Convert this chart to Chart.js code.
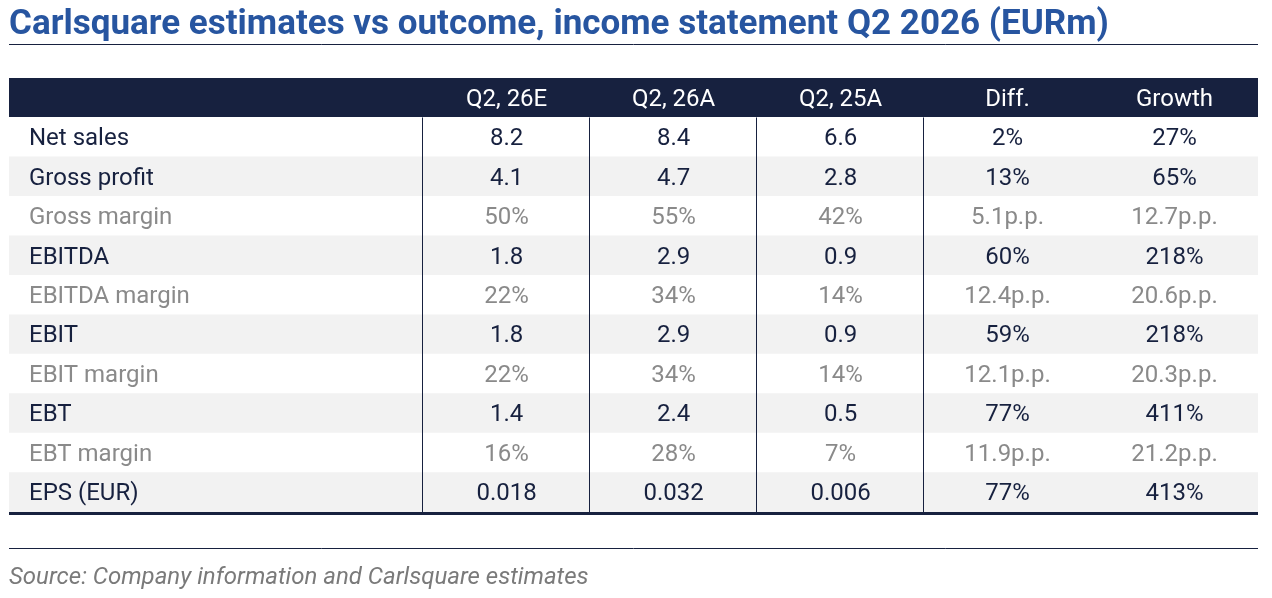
<!DOCTYPE html>
<html>
<head>
<meta charset="utf-8">
<script src="https://cdn.jsdelivr.net/npm/chart.js@4"></script>
<style>
  html, body { margin: 0; padding: 0; background: #fff; }
  #wrap { width: 1272px; height: 598px; }
</style>
</head>
<body>
<div id="wrap"><canvas id="incomeTable"></canvas></div>
<script>
// table content
const headers = ['Q2, 26E', 'Q2, 26A', 'Q2, 25A', 'Diff.', 'Growth'];
const rowLabels = ['Net sales', 'Gross profit', 'Gross margin', 'EBITDA', 'EBITDA margin',
    'EBIT', 'EBIT margin', 'EBT', 'EBT margin', 'EPS (EUR)'];
const q226E = ['8.2', '4.1', '50%', '1.8', '22%', '1.8', '22%', '1.4', '16%', '0.018'];
const q226A = ['8.4', '4.7', '55%', '2.9', '34%', '2.9', '34%', '2.4', '28%', '0.032'];
const q225A = ['6.6', '2.8', '42%', '0.9', '14%', '0.9', '14%', '0.5', '7%', '0.006'];
const diff = ['2%', '13%', '5.1p.p.', '60%', '12.4p.p.', '59%', '12.1p.p.', '77%', '11.9p.p.', '77%'];
const growth = ['27%', '65%', '12.7p.p.', '218%', '20.6p.p.', '218%', '20.3p.p.', '411%', '21.2p.p.', '413%'];

const columns = [q226E, q226A, q225A, diff, growth];

const NAVY = '#17213f';
const GREY_ROW = '#f2f2f2';
const GREY_TEXT = '#8a8a8a';
const X_MIN = -2.48;   // label column, in "data column" widths
const X_MAX = headers.length;

// first category is the header band
const yLabels = [''].concat(rowLabels);

function bandColor(ctx) {
    const i = ctx.dataIndex;
    if (i === 0) return NAVY;
    return i % 2 === 0 ? GREY_ROW : '#ffffff';
}

const tablePlugin = {
    id: 'tablePlugin',
    afterDatasetsDraw(chart) {
        const ctx = chart.ctx;
        const x = chart.scales.x;
        const y = chart.scales.y;
        const area = chart.chartArea;
        const band = (area.bottom - area.top) / yLabels.length;
        const bodyTop = y.getPixelForValue(0) + band / 2;

        ctx.save();
        // vertical dividers between label / value columns (body only)
        ctx.strokeStyle = NAVY;
        ctx.lineWidth = 1;
        for (let c = 0; c < 4; c++) {
            const px = Math.round(x.getPixelForValue(c)) - 0.5;
            ctx.beginPath();
            ctx.moveTo(px, bodyTop);
            ctx.lineTo(px, area.bottom);
            ctx.stroke();
        }

        // thick bottom rule
        ctx.lineWidth = 3;
        ctx.beginPath();
        ctx.moveTo(area.left, area.bottom + 1.5);
        ctx.lineTo(area.right, area.bottom + 1.5);
        ctx.stroke();

        // rule under title and rule above source
        ctx.lineWidth = 1;
        ctx.beginPath();
        ctx.moveTo(area.left, 44.5);
        ctx.lineTo(area.right, 44.5);
        ctx.moveTo(area.left, 548.5);
        ctx.lineTo(area.right, 548.5);
        ctx.stroke();

        // header texts
        ctx.textBaseline = 'middle';
        ctx.font = '24px Roboto';
        ctx.textAlign = 'center';
        ctx.fillStyle = '#ffffff';
        headers.forEach((h, c) => {
            ctx.fillText(h, x.getPixelForValue(c + 0.5), y.getPixelForValue(0) + 2);
        });

        // body
        rowLabels.forEach((label, r) => {
            const py = y.getPixelForValue(r + 1) + 2;
            ctx.fillStyle = label.indexOf('margin') >= 0 ? GREY_TEXT : NAVY;
            ctx.textAlign = 'left';
            ctx.fillText(label, x.getPixelForValue(X_MIN) + 20, py);
            ctx.textAlign = 'center';
            columns.forEach((col, c) => {
                ctx.fillText(col[r], x.getPixelForValue(c + 0.5), py);
            });
        });
        ctx.restore();
    }
};

new Chart(document.getElementById('incomeTable'), {
    type: 'bar',
    data: {
        labels: yLabels,
        datasets: [{
            label: 'rows',
            data: yLabels.map(() => [X_MIN, X_MAX]),
            backgroundColor: bandColor,
            borderWidth: 0,
            barPercentage: 1,
            categoryPercentage: 1
        }]
    },
    options: {
        indexAxis: 'y',
        responsive: true,
        maintainAspectRatio: false,
        animation: false,
        layout: {
            padding: { left: 9, right: 14, top: 0, bottom: 0 }
        },
        scales: {
            x: { type: 'linear', min: X_MIN, max: X_MAX, display: false },
            y: { type: 'category', offset: true, display: false }
        },
        plugins: {
            legend: { display: false },
            tooltip: { enabled: false },
            title: {
                display: true,
                text: 'Carlsquare estimates vs outcome, income statement Q2 2026 (EURm)',
                align: 'start',
                color: '#2755a0',
                font: { family: 'Roboto', size: 35, weight: 'bold', lineHeight: 1.2 },
                padding: { top: 4, bottom: 32 }
            },
            subtitle: {
                display: true,
                position: 'bottom',
                text: 'Source: Company information and Carlsquare estimates',
                align: 'start',
                color: '#7a7a7a',
                font: { family: 'Roboto', size: 24, style: 'italic', lineHeight: 1.2 },
                padding: { top: 52, bottom: 5.2 }
            }
        }
    },
    plugins: [tablePlugin]
});
</script>
</body>
</html>
